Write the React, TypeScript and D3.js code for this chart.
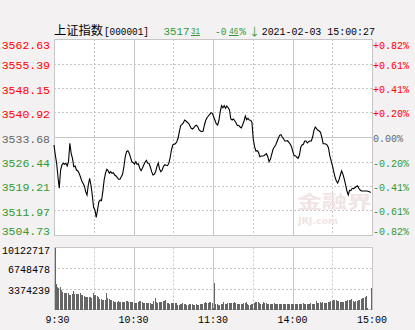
import React from 'react';
import * as d3 from 'd3';

// ---- data ----
const prevClose = 3533.68;
const lastPrice = '3517';
const lastPriceDec = '31';
const changePctHead = '-0';
const changePctDec = '46';
const title = '上证指数';
const code = '[000001]';
const stamp = '2021-02-03 15:00:27';

const priceTicks = [3562.63, 3555.39, 3548.15, 3540.92, 3533.68, 3526.44, 3519.21, 3511.97, 3504.73];
const pctTicks = ['+0.82%', '+0.61%', '+0.41%', '+0.20%', '0.00%', '-0.20%', '-0.41%', '-0.61%', '-0.82%'];
const volTicks = [10122717, 6748478, 3374239];
const timeLabels = ['9:30', '10:30', '11:30', '14:00', '15:00'];

const prices = [
  3531.32, 3528.36, 3525.91, 3521.95, 3518.53, 3523.93, 3525.41, 3525.91, 3525.62, 3525.91,
  3525.11, 3526.38, 3531.82, 3528.87, 3527.39, 3524.91, 3525.11, 3523.93, 3523.73, 3522.96,
  3521.95, 3520.77, 3520.00, 3519.21, 3517.52, 3516.55, 3519.50, 3521.48, 3519.50, 3516.55,
  3512.91, 3512.12, 3509.96, 3512.12, 3514.57, 3515.07, 3514.86, 3517.52, 3520.98, 3522.96,
  3524.14, 3523.73, 3522.96, 3523.43, 3522.96, 3523.13, 3522.45, 3522.16, 3521.66, 3521.18,
  3521.18, 3521.95, 3522.75, 3524.91, 3527.86, 3529.34, 3529.63, 3528.87, 3527.68, 3526.38,
  3526.09, 3525.70, 3526.38, 3525.62, 3525.70, 3524.43, 3523.73, 3524.43, 3525.41, 3526.21,
  3526.80, 3525.91, 3525.91, 3524.82, 3523.43, 3522.45, 3522.66, 3523.43, 3524.91, 3526.00,
  3524.23, 3523.43, 3523.93, 3525.02, 3525.50, 3525.32, 3525.20, 3525.91, 3527.57, 3529.84,
  3531.32, 3531.52, 3531.70, 3532.20, 3533.30, 3535.25, 3537.02, 3537.43, 3537.82, 3538.70,
  3538.41, 3538.02, 3537.73, 3537.02, 3536.25, 3536.04, 3536.43, 3536.93, 3537.14, 3536.72,
  3535.75, 3535.45, 3535.25, 3535.45, 3537.23, 3538.61, 3539.38, 3539.88, 3540.39, 3540.86,
  3540.68, 3539.68, 3538.61, 3537.52, 3537.23, 3538.61, 3541.15, 3542.93, 3542.34, 3542.93,
  3542.16, 3542.84, 3542.34, 3541.66, 3539.00, 3538.70, 3539.00, 3538.50, 3537.82, 3537.02,
  3537.14, 3536.63, 3536.34, 3537.31, 3538.41, 3539.88, 3538.79, 3539.20, 3538.70, 3538.61,
  3538.02, 3533.09, 3530.81, 3529.54, 3529.63, 3529.16, 3527.86, 3528.07, 3528.07, 3528.16,
  3528.45, 3528.75, 3527.86, 3526.38, 3527.09, 3528.57, 3530.05, 3530.73, 3531.32, 3532.29,
  3533.30, 3534.18, 3534.36, 3533.68, 3533.09, 3532.50, 3532.50, 3532.59, 3532.11, 3531.61,
  3530.81, 3529.34, 3528.16, 3528.16, 3527.68, 3527.39, 3528.36, 3530.64, 3531.32, 3531.52,
  3532.50, 3532.50, 3531.91, 3532.29, 3532.50, 3532.50, 3533.68, 3535.66, 3536.63, 3536.13,
  3535.66, 3535.45, 3535.07, 3533.47, 3531.70, 3531.70, 3531.61, 3531.32, 3530.52, 3528.16,
  3526.68, 3525.20, 3523.43, 3521.78, 3520.68, 3520.09, 3521.07, 3522.45, 3523.64, 3522.66,
  3521.27, 3519.50, 3517.73, 3516.55, 3517.94, 3517.82, 3518.53, 3518.41, 3518.70, 3519.00,
  3519.29, 3518.53, 3518.02, 3517.73, 3517.73, 3517.73, 3517.73, 3517.73, 3517.64, 3517.52,
  3517.31,
];

const volumes = [
  10122717,
  4160000, 3720000, 3460000, 3620000, 3180000, 2900000, 2740000, 2640000, 2640000,
  2700000, 2370000, 2400000, 2480000, 3020000, 2600000, 2580000, 2480000, 2480000, 2640000,
  2370000, 2300000, 2200000, 2100000, 2040000, 2040000, 2040000, 2040000, 1830000, 2700000,
  2370000, 2370000, 2200000, 2100000, 1710000, 1650000, 1550000, 1550000, 1550000, 2640000,
  1900000, 1750000, 1630000, 1550000, 1400000, 1270000, 1270000, 1300000, 1350000, 1270000,
  1270000, 1270000, 1270000, 1270000, 1350000, 1350000, 1200000, 1170000, 1170000, 1170000,
  1100000, 1010000, 1010000, 1270000, 1350000, 1350000, 1170000, 1100000, 1010000, 1010000,
  1010000, 1010000, 1010000, 950000, 950000, 1400000, 1830000, 1170000, 1010000, 1170000,
  1170000, 1270000, 1350000, 1350000, 1550000, 1010000, 1010000, 900000, 1010000, 1010000,
  1010000, 1010000, 1010000, 730000, 750000, 850000, 850000, 1010000, 950000, 850000,
  800000, 730000, 850000, 850000, 850000, 730000, 800000, 850000, 730000, 800000,
  850000, 850000, 950000, 1010000, 1170000, 1100000, 1010000, 1270000, 1170000, 1100000,
  250000,
  4280000,
  850000, 850000, 730000, 730000, 850000, 950000, 1170000, 950000, 850000,
  1010000, 1010000, 1010000, 1010000, 1010000, 1170000, 1010000, 950000, 850000, 950000,
  900000, 850000, 1010000, 1100000, 1170000, 900000, 800000, 730000, 850000, 850000,
  1010000, 1170000, 1170000, 1170000, 1010000, 950000, 850000, 1170000, 1100000, 1010000,
  850000, 900000, 950000, 850000, 900000, 1010000, 850000, 850000, 850000, 850000,
  850000, 850000, 850000, 850000, 950000, 850000, 850000, 950000, 850000, 850000,
  850000, 850000, 850000, 850000, 850000, 850000, 950000, 1010000, 900000, 850000,
  850000, 850000, 850000, 1010000, 900000, 850000, 850000, 1390000, 1100000, 1010000,
  1170000, 1100000, 1170000, 1010000, 1050000, 1050000, 1170000, 1200000, 1390000, 1390000,
  1500000, 1550000, 1550000, 1450000, 1390000, 1300000, 1200000, 1170000, 1300000, 1350000,
  1390000, 1500000, 1550000, 1550000, 1710000, 1390000, 1250000, 1390000, 1390000, 1550000,
  1550000, 1710000, 1800000, 1930000, 2050000, 2200000, 300000, 0, 0, 3500000,
];

const BG = '#f3f1f2';
const GRID = '#c6c6c6';
const RED = '#ff0000';
const GREEN = '#339933';
const GREY = '#666666';
const MONO = '"Liberation Mono", "DejaVu Sans Mono", monospace';
const CJK = '"Noto Sans CJK SC", "Noto Sans", sans-serif';

export default function App() {
  const W = 415, H = 330;
  const L = 54, R = 372, T = 39, B = 235;
  const VT = 247.5, VB = 309.5;

  const x = d3.scaleLinear().domain([0, 241]).range([L, R]);
  const gx = d3.scaleLinear().domain([0, 8]).range([L, R]);
  const y = d3.scaleLinear().domain([priceTicks[8], priceTicks[0]]).range([B, T]);
  const vy = d3.scaleLinear().domain([0, volTicks[0]]).range([VB, VT]);
  const line = d3.line<number>().x((_, i) => x(i)).y((d) => y(d));
  const px = (v: number) => Math.round(v) + 0.5;

  const colorFor = (i: number) => (i < 4 ? RED : i === 4 ? GREY : GREEN);

  return (
    <svg width={W} height={H} style={{ position: 'absolute', left: 0, top: 0 }}>
      <rect x={0} y={0} width={W} height={H} fill={BG} />
      {/* header */}
      <text x={54} y={35} fontFamily={CJK} fontSize={12} fill="#000" textLength={49} lengthAdjust="spacingAndGlyphs">{title}</text>
      <text x={104} y={35} fontFamily={MONO} fontSize={10.5} fill="#000" textLength={45} lengthAdjust="spacingAndGlyphs">{code}</text>
      <text x={163.5} y={35} fontFamily={MONO} fontSize={11} fill={GREEN} textLength={26} lengthAdjust="spacingAndGlyphs">{lastPrice}</text>
      <text x={191} y={33.5} fontFamily={MONO} fontSize={8.5} fill={GREEN} textLength={9} lengthAdjust="spacingAndGlyphs">{lastPriceDec}</text>
      <line x1={191} x2={200} y1={35.5} y2={35.5} stroke={GREEN} strokeWidth={1} />
      <text x={215} y={35} fontFamily={MONO} fontSize={11} fill={GREEN} textLength={11.5} lengthAdjust="spacingAndGlyphs">{changePctHead}</text>
      <text x={229.3} y={33.5} fontFamily={MONO} fontSize={8.5} fill={GREEN} textLength={9} lengthAdjust="spacingAndGlyphs">{changePctDec}</text>
      <line x1={229} x2={238.5} y1={35.5} y2={35.5} stroke={GREEN} strokeWidth={1} />
      <text x={239.3} y={35} fontFamily={MONO} fontSize={11} fill={GREEN} textLength={6.7} lengthAdjust="spacingAndGlyphs">%</text>
      <text x={249} y={35.5} fontFamily={CJK} fontSize={11} fill={GREEN}>↓</text>
      <text x={261.7} y={35} fontFamily={MONO} fontSize={10.5} fill="#000" textLength={113.3} lengthAdjust="spacingAndGlyphs">{stamp}</text>

      {/* main panel */}
      <rect x={L + 0.5} y={T + 0.5} width={R - L} height={B - T} fill="#fff" stroke={GRID} />
      {priceTicks.map((p, i) =>
        i === 0 || i === 8 ? null : (
          <line key={'h' + i} x1={L} x2={R} y1={px(y(p))} y2={px(y(p))} stroke={GRID}
            strokeDasharray={i === 4 ? undefined : '2,2'} strokeWidth={1} />
        )
      )}
      {d3.range(1, 8).map((k) => (
        <line key={'v' + k} x1={px(gx(k))} x2={px(gx(k))} y1={T} y2={B} stroke={GRID}
          strokeDasharray={k % 2 === 0 ? undefined : '2,2'} strokeWidth={1} />
      ))}
      {/* watermark */}
      <text x={297} y={208} fontFamily={CJK} fontSize={17} fontWeight={700} fill="#f1e4e4" textLength={75} lengthAdjust="spacingAndGlyphs">金融界</text>
      <text x={298} y={224} fontFamily='"DejaVu Sans", sans-serif' fontSize={8} fontWeight={700} fill="#f1e4e4" textLength={40} lengthAdjust="spacingAndGlyphs">JRJ.com</text>

      <path d={line(prices) || ''} fill="none" stroke="#000" strokeWidth={1.1} />

      {priceTicks.map((p, i) => {
        const base = i === 0 ? 49 : i === 8 ? 235 : y(p) + 5.5;
        return (
          <text key={'pl' + i} x={50} y={base} textAnchor="end" fontFamily={MONO} fontSize={11.5}
            fill={colorFor(i)}>{p.toFixed(2)}</text>
        );
      })}
      {pctTicks.map((t, i) => {
        const base = i === 0 ? 48.5 : i === 8 ? 235 : y(priceTicks[i]) + 5;
        return (
          <text key={'pr' + i} x={373} y={base} fontFamily={MONO} fontSize={10} fill={colorFor(i)}>{t}</text>
        );
      })}

      {/* volume panel */}
      <rect x={L + 0.5} y={VT} width={R - L} height={VB - VT} fill="#fff" stroke={GRID} />
      {volTicks.slice(1).map((v, i) => (
        <line key={'vh' + i} x1={L} x2={R} y1={px(vy(v))} y2={px(vy(v))} stroke={GRID} strokeDasharray="2,2" />
      ))}
      {d3.range(1, 8).map((k) => (
        <line key={'vv' + k} x1={px(gx(k))} x2={px(gx(k))} y1={VT} y2={VB} stroke={GRID}
          strokeDasharray={k % 2 === 0 ? undefined : '2,2'} />
      ))}
      {volumes.map((v, i) => (
        <rect key={'b' + i} x={x(i) + 0.5} y={vy(v)} width={1} height={Math.max(0, VB - vy(v))}
          fill="#666" shapeRendering="crispEdges" />
      ))}
      {volTicks.map((v, i) => (
        <text key={'vl' + i} x={50} y={i === 0 ? 253.5 : vy(v) + 5} textAnchor="end" fontFamily={MONO}
          fontSize={10} fill="#000">{v}</text>
      ))}

      {/* time labels */}
      {timeLabels.map((t, i) => (
        <text key={'t' + i} x={i === 0 ? 57.5 : gx(i * 2)} y={323} textAnchor="middle" fontFamily={MONO}
          fontSize={10} fill="#000">{t}</text>
      ))}
    </svg>
  );
}
